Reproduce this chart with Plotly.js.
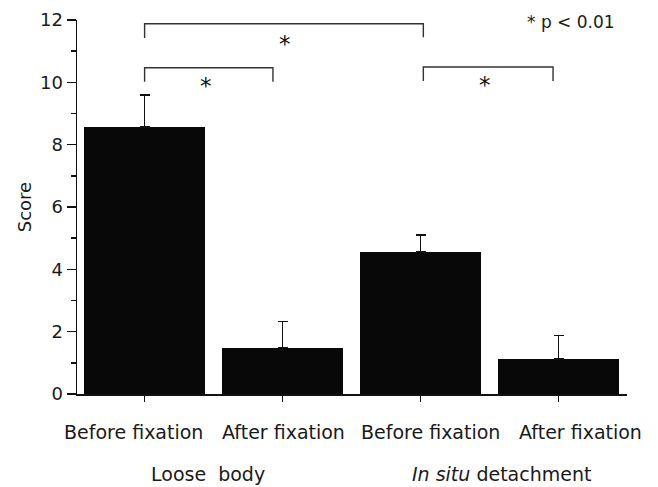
<!DOCTYPE html>
<html>
<head>
<meta charset="utf-8">
<script src="https://cdn.plot.ly/plotly-3.0.1.min.js"></script>
<style>html,body{margin:0;padding:0;background:#fff;}#chart{width:658px;height:487px;}</style>
</head>
<body>
<div id="chart"></div>
<script>
// ---- data ----
const positions = [0, 1, 2, 3];
const tickLabels = ["Before fixation", "After fixation", "Before fixation", "After fixation"];
const scores = [8.56, 1.49, 4.56, 1.12];
const errorsUp = [1.03, 0.83, 0.54, 0.75];
const groupLabels = ["Loose  body", "<i>In situ</i> detachment"];
const groupCenters = [0.46, 2.59];
// significance brackets
const bracketBigX = [0, 0, 2.02, 2.02];
const bracketBigY = [11.42, 11.88, 11.88, 11.45];
const bracketLeftX = [0, 0, 0.93, 0.93];
const bracketLeftY = [10.02, 10.47, 10.47, 10.02];
const bracketRightX = [2.02, 2.02, 2.96, 2.96];
const bracketRightY = [10.04, 10.49, 10.49, 10.04];
const starX = [1.02, 0.445, 2.47];
const starY = [11.42, 10.07, 10.1];
const legendNote = "* p &lt; 0.01";

// label pixel offsets (style)
const labelShift = [-11, 1, 10, 22];

const FONT = "DejaVu Sans, Liberation Sans, Arial, sans-serif";
const TXT = "#1a1a1a";

const traces = [{
  type: "bar",
  x: positions,
  y: scores,
  width: 0.877,
  marker: {color: "#080808", line: {width: 0}},
  error_y: {type: "data", symmetric: false, array: errorsUp, arrayminus: [0,0,0,0],
            color: "#111", thickness: 1.5, width: 5},
  hoverinfo: "skip",
  showlegend: false
}];
[[bracketBigX, bracketBigY], [bracketLeftX, bracketLeftY], [bracketRightX, bracketRightY]].forEach(b => {
  traces.push({type: "scatter", mode: "lines", x: b[0], y: b[1],
    line: {color: "#333", width: 1.4}, hoverinfo: "skip", showlegend: false});
});

const annotations = [];
starX.forEach((sx, i) => annotations.push({
  x: sx, y: starY[i], xref: "x", yref: "y", text: "*", showarrow: false,
  xanchor: "center", yanchor: "middle", yshift: -6,
  font: {family: FONT, size: 23, color: "#111"}
}));
tickLabels.forEach((t, i) => annotations.push({
  x: positions[i], y: 0, xref: "x", yref: "y", text: t, showarrow: false,
  xanchor: "center", yanchor: "middle", yshift: -38, xshift: labelShift[i],
  font: {family: FONT, size: 19, color: TXT}
}));
groupLabels.forEach((g, i) => annotations.push({
  x: groupCenters[i], y: 0, xref: "x", yref: "y", text: g, showarrow: false,
  xanchor: "center", yanchor: "middle", yshift: -80,
  font: {family: FONT, size: 19, color: TXT}
}));
annotations.push({
  x: 0.982, y: 0.995, xref: "paper", yref: "paper", text: legendNote, showarrow: false,
  xanchor: "right", yanchor: "middle",
  font: {family: FONT, size: 17, color: TXT}
});

const layout = {
  width: 658, height: 487,
  margin: {l: 77, r: 31, t: 20, b: 93},
  paper_bgcolor: "#fff", plot_bgcolor: "#fff",
  font: {family: FONT, size: 18, color: TXT},
  showlegend: false,
  bargap: 0,
  xaxis: {
    range: [-0.49, 3.496],
    tickvals: positions, showticklabels: false,
    ticks: "outside", ticklen: 6, tickwidth: 1.5, tickcolor: "#111",
    showline: true, linecolor: "#111", linewidth: 1.5,
    showgrid: false, zeroline: false,
    fixedrange: true
  },
  yaxis: {
    range: [0, 12],
    tickvals: [0, 2, 4, 6, 8, 10, 12],
    ticks: "outside", ticklen: 9, tickwidth: 1.5, tickcolor: "#111",
    minor: {dtick: 1, ticks: "outside", ticklen: 5, tickwidth: 1.5, tickcolor: "#111"},
    showline: true, linecolor: "#111", linewidth: 1.5,
    showgrid: false, zeroline: false,
    tickfont: {family: FONT, size: 18, color: TXT},
    title: {text: "Score", font: {family: FONT, size: 18, color: TXT}, standoff: 3},
    fixedrange: true
  },
  annotations: annotations
};

Plotly.newPlot("chart", traces, layout, {displayModeBar: false, staticPlot: true});
</script>
</body>
</html>
